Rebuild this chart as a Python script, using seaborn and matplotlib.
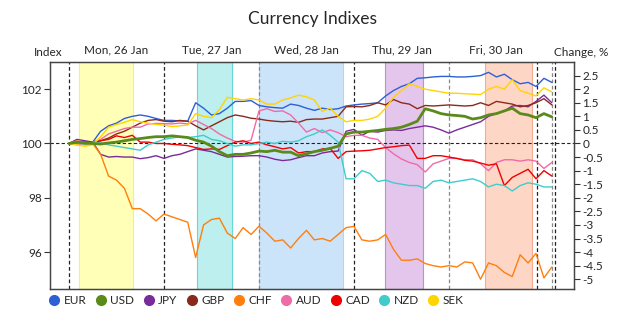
import numpy as np
import pandas as pd
import seaborn as sns
import matplotlib.pyplot as plt
from matplotlib.lines import Line2D

sns.set_style("white")
plt.rcParams['font.family'] = ['Lato', 'DejaVu Sans']
plt.rcParams['axes.unicode_minus'] = False

# time axis: hours since Mon 26 Jan 00:00, one reading every 2 hours
hours = np.arange(0, 124, 2)

# change in %
eur = [0, 0.03, 0.05, 0.05, 0.45, 0.65, 0.75, 0.92, 1.0, 1.05, 1.0, 0.92,
       0.85, 0.85, 0.83, 0.82, 1.5, 1.3, 1.05, 1.1, 1.3, 1.55, 1.55, 1.58,
       1.4, 1.35, 1.32, 1.3, 1.45, 1.4, 1.3, 1.22, 1.3, 1.25, 1.28, 1.38,
       1.42, 1.45, 1.47, 1.5, 1.75, 1.95, 2.1, 2.2, 2.4, 2.42, 2.45, 2.47,
       2.47, 2.45, 2.45, 2.47, 2.5, 2.62, 2.45, 2.55, 2.35, 2.2, 2.25, 2.1, 2.4, 2.25]
usd = [0, 0.05, 0.02, 0.0, -0.02, 0.02, 0.05, 0.1, 0.15, 0.18, 0.22, 0.25,
       0.25, 0.28, 0.25, 0.22, 0.12, 0.05, -0.1, -0.3, -0.45, -0.4, -0.4, -0.35,
       -0.28, -0.3, -0.25, -0.32, -0.32, -0.45, -0.38, -0.3, -0.25, -0.18, -0.1, 0.35,
       0.42, 0.42, 0.45, 0.48, 0.52, 0.55, 0.6, 0.7, 0.82, 1.28, 1.2, 1.1,
       1.05, 1.03, 1.0, 0.9, 0.95, 1.05, 1.1, 1.2, 1.3, 1.1, 1.05, 0.95, 1.1, 0.98]
jpy = [0, 0.15, 0.1, 0.05, -0.4, -0.5, -0.48, -0.5, -0.5, -0.56, -0.52, -0.45,
       -0.55, -0.45, -0.4, -0.3, -0.2, -0.25, -0.3, -0.4, -0.5, -0.48, -0.47, -0.45,
       -0.45, -0.5, -0.58, -0.63, -0.6, -0.52, -0.45, -0.45, -0.35, -0.3, -0.28, 0.45,
       0.52, 0.3, 0.45, 0.42, 0.48, 0.5, 0.48, 0.55, 0.6, 0.65, 0.6, 0.5,
       0.38, 0.5, 0.6, 0.7, 0.8, 1.0, 1.1, 1.2, 1.38, 1.4, 1.35, 1.55, 1.78, 1.5]
gbp = [0, 0, 0.02, 0.05, 0.1, 0.2, 0.35, 0.45, 0.6, 0.75, 0.85, 0.88,
       0.82, 0.8, 0.85, 0.82, 0.65, 0.5, 0.65, 0.8, 0.95, 1.05, 1.0, 0.93,
       0.9, 0.85, 0.82, 0.8, 0.82, 0.78, 0.88, 0.9, 0.9, 0.95, 1.0, 1.35,
       1.36, 1.35, 1.4, 1.5, 1.42, 1.62, 1.5, 1.45, 1.28, 1.4, 1.38, 1.4,
       1.42, 1.4, 1.38, 1.4, 1.5, 1.4, 1.55, 1.5, 1.45, 1.35, 1.4, 1.5, 1.65, 1.42]
chf = [0, 0.1, -0.05, 0.0, -0.4, -1.2, -1.35, -1.65, -2.4, -2.4, -2.6, -2.85,
       -2.6, -2.7, -2.8, -2.9, -4.2, -3.0, -2.8, -2.75, -3.3, -3.5, -3.1, -3.35,
       -3.05, -3.3, -3.6, -3.55, -3.85, -3.5, -3.2, -3.55, -3.5, -3.6, -3.35, -3.1,
       -3.05, -3.55, -3.6, -3.55, -3.35, -3.9, -4.3, -4.3, -4.25, -4.42, -4.5, -4.55,
       -4.5, -4.55, -4.36, -4.4, -5.0, -4.4, -4.5, -4.75, -4.9, -4.1, -4.4, -4.05, -4.95, -4.55]
aud = [0, -0.05, 0, 0.05, 0.15, 0.35, 0.45, 0.55, 0.6, 0.6, 0.72, 0.74,
       0.73, 0.72, 0.75, 0.72, 0.85, 0.7, 0.55, 0.35, 0.2, 0.08, 0.05, 0.12,
       1.2, 1.28, 1.18, 1.2, 1.05, 0.75, 0.42, 0.55, 0.4, 0.5, 0.4, 0.25,
       0.3, 0.3, 0.2, 0.15, -0.15, -0.38, -0.57, -0.7, -0.78, -1.05, -0.75, -0.65,
       -0.55, -0.55, -0.6, -0.6, -0.75, -1.0, -0.7, -0.6, -0.6, -0.65, -0.6, -0.65, -0.92, -0.7]
cad = [0, 0.02, 0.05, 0.02, 0.1, 0.15, 0.28, 0.22, 0.3, 0.05, 0.05, 0.0,
       0, -0.03, -0.05, -0.08, -0.15, -0.22, -0.2, -0.22, -0.08, 0.05, 0.1, 0.0,
       0.05, -0.05, -0.12, -0.2, -0.15, -0.35, -0.3, -0.3, -0.2, -0.18, -0.55, -0.3,
       -0.28, -0.27, -0.25, -0.2, -0.15, -0.12, -0.08, -0.06, -0.55, -0.55, -0.45, -0.45,
       -0.5, -0.55, -0.62, -0.65, -0.72, -0.8, -0.75, -1.55, -1.25, -1.1, -0.95, -1.3, -1.0, -1.2]
nzd = [0, 0.02, -0.02, 0.03, 0.02, -0.05, -0.1, -0.15, -0.2, -0.25, -0.05, 0.05,
       0.15, 0.2, 0.25, 0.22, 0.25, 0.3, 0.15, 0.1, 0.0, -0.1, -0.05, -0.05,
       0.0, 0.05, 0.0, 0.08, 0.05, 0.1, 0.25, 0.35, 0.5, 0.3, 0.05, -1.3,
       -1.3, -1.0, -1.1, -1.4, -1.35, -1.45, -1.5, -1.55, -1.55, -1.65, -1.4, -1.35,
       -1.45, -1.4, -1.35, -1.3, -1.4, -1.6, -1.5, -1.55, -1.75, -1.55, -1.45, -1.5, -1.6, -1.6]
sek = [0, -0.05, -0.1, -0.05, 0.25, 0.6, 0.7, 0.78, 0.88, 0.8, 0.75, 0.7,
       0.68, 0.62, 0.65, 0.68, 1.1, 1.0, 0.95, 1.25, 1.7, 1.65, 1.6, 1.65,
       1.6, 1.45, 1.45, 1.6, 1.68, 1.78, 1.72, 1.6, 1.18, 1.3, 1.0, 0.8,
       0.85, 0.85, 0.9, 1.0, 1.3, 1.7, 1.95, 2.2, 2.1, 2.0, 1.95, 1.9,
       1.85, 1.85, 1.83, 1.82, 1.8, 2.0, 2.1, 2.0, 2.35, 1.95, 1.85, 1.75, 2.05, 1.9]

currencies = ['EUR', 'USD', 'JPY', 'GBP', 'CHF', 'AUD', 'CAD', 'NZD', 'SEK']
series = [eur, usd, jpy, gbp, chf, aud, cad, nzd, sek]
colors = ['#2e5fd6', '#5a8a1a', '#7a2b9a', '#8a2a1c', '#ff7f0e',
          '#f06aa8', '#f00000', '#3fcccc', '#ffd400']

day_labels = ['Mon, 26 Jan', 'Tue, 27 Jan', 'Wed, 28 Jan', 'Thu, 29 Jan', 'Fri, 30 Jan']
day_mid = [12, 36, 60, 84, 108]

# shaded sessions (hours), face / edge colour
sessions = [(2.5, 16.2, '#ffffb8', '#f2ee90'),
            (32.3, 41.2, '#bcefee', '#66d8d8'),
            (48.0, 69.2, '#cce4fa', '#b4d4f2'),
            (79.8, 89.4, '#e4c6ec', '#bf8fd6'),
            (105.1, 117.0, '#fdd6c6', '#f3ad94')]

# dashed vertical separators (hours, colour)
separators = [(0, '#222222'), (24, '#222222'), (48, '#888888'), (72, '#222222'),
              (96, '#888888'), (118.25, '#222222'), (122, '#888888'), (122.75, '#222222')]

df = pd.DataFrame({c: 100 + np.array(v) for c, v in zip(currencies, series)})
df['hour'] = hours

fig = plt.figure(figsize=(6.25, 3.15), dpi=100)
ax = fig.add_axes([0.08, 0.0825, 0.8384, 0.7206])

for s0, s1, fc, ec in sessions:
    ax.axvspan(s0, s1, facecolor=fc, edgecolor=ec, lw=0.8, zorder=0)
for h, c in separators:
    ax.axvline(h, color=c, ls=(0, (3, 2)), lw=0.9, zorder=1)
ax.axhline(100, color='#222222', ls=(0, (3, 2)), lw=0.8, zorder=1)

for cur, col in zip(currencies, colors):
    sns.lineplot(data=df, x='hour', y=cur, ax=ax, color=col,
                 lw=2.0 if cur == 'USD' else 1.0, zorder=3 if cur == 'USD' else 2)

ax.set_xlim(-4.8, 127.6)
ax.set_ylim(94.64, 103.0)
ax.set_xticks([0, 24, 96, 118.25, 122.75])
ax.set_yticks([96, 98, 100, 102])
ax.set_xlabel('')
ax.set_ylabel('')
ax.tick_params(axis='x', direction='in', length=4, labelbottom=False, color='#333333')
ax.tick_params(axis='y', direction='out', length=4, labelsize=8.5, color='#333333', pad=2)

ax2 = ax.twinx()
ax2.set_ylim(94.64 - 100, 103.0 - 100)
rticks = [-5, -4.5, -4, -3.5, -3, -2.5, -2, -1.5, -1, -0.5, 0, 0.5, 1, 1.5, 2, 2.5]
ax2.set_yticks(rticks)
ax2.set_yticklabels(['%g' % t for t in rticks])
ax2.tick_params(axis='y', direction='out', length=4, labelsize=8.5, color='#333333', pad=2)

for a in (ax, ax2):
    for sp in a.spines.values():
        sp.set_color('#444444')
        sp.set_linewidth(0.9)

fig.text(0.5, 0.94, 'Currency Indixes', ha='center', va='center', fontsize=12.5)
for lab, h in zip(day_labels, day_mid):
    ax.text(h, 1.055, lab, transform=ax.get_xaxis_transform(), ha='center',
            va='center', fontsize=8.5)
fig.text(0.077, 0.833, 'Index', ha='center', va='center', fontsize=8.5)
fig.text(0.93, 0.833, 'Change, %', ha='center', va='center', fontsize=8.5)

handles = [Line2D([], [], marker='o', ls='', color=c, markersize=7) for c in colors]
fig.legend(handles, currencies, loc='center left', bbox_to_anchor=(0.068, 0.046),
           ncol=9, frameon=False, fontsize=8.5, handletextpad=0.3,
           columnspacing=0.72, handlelength=1.0, borderpad=0)

fig.savefig('out.png', dpi=100)
